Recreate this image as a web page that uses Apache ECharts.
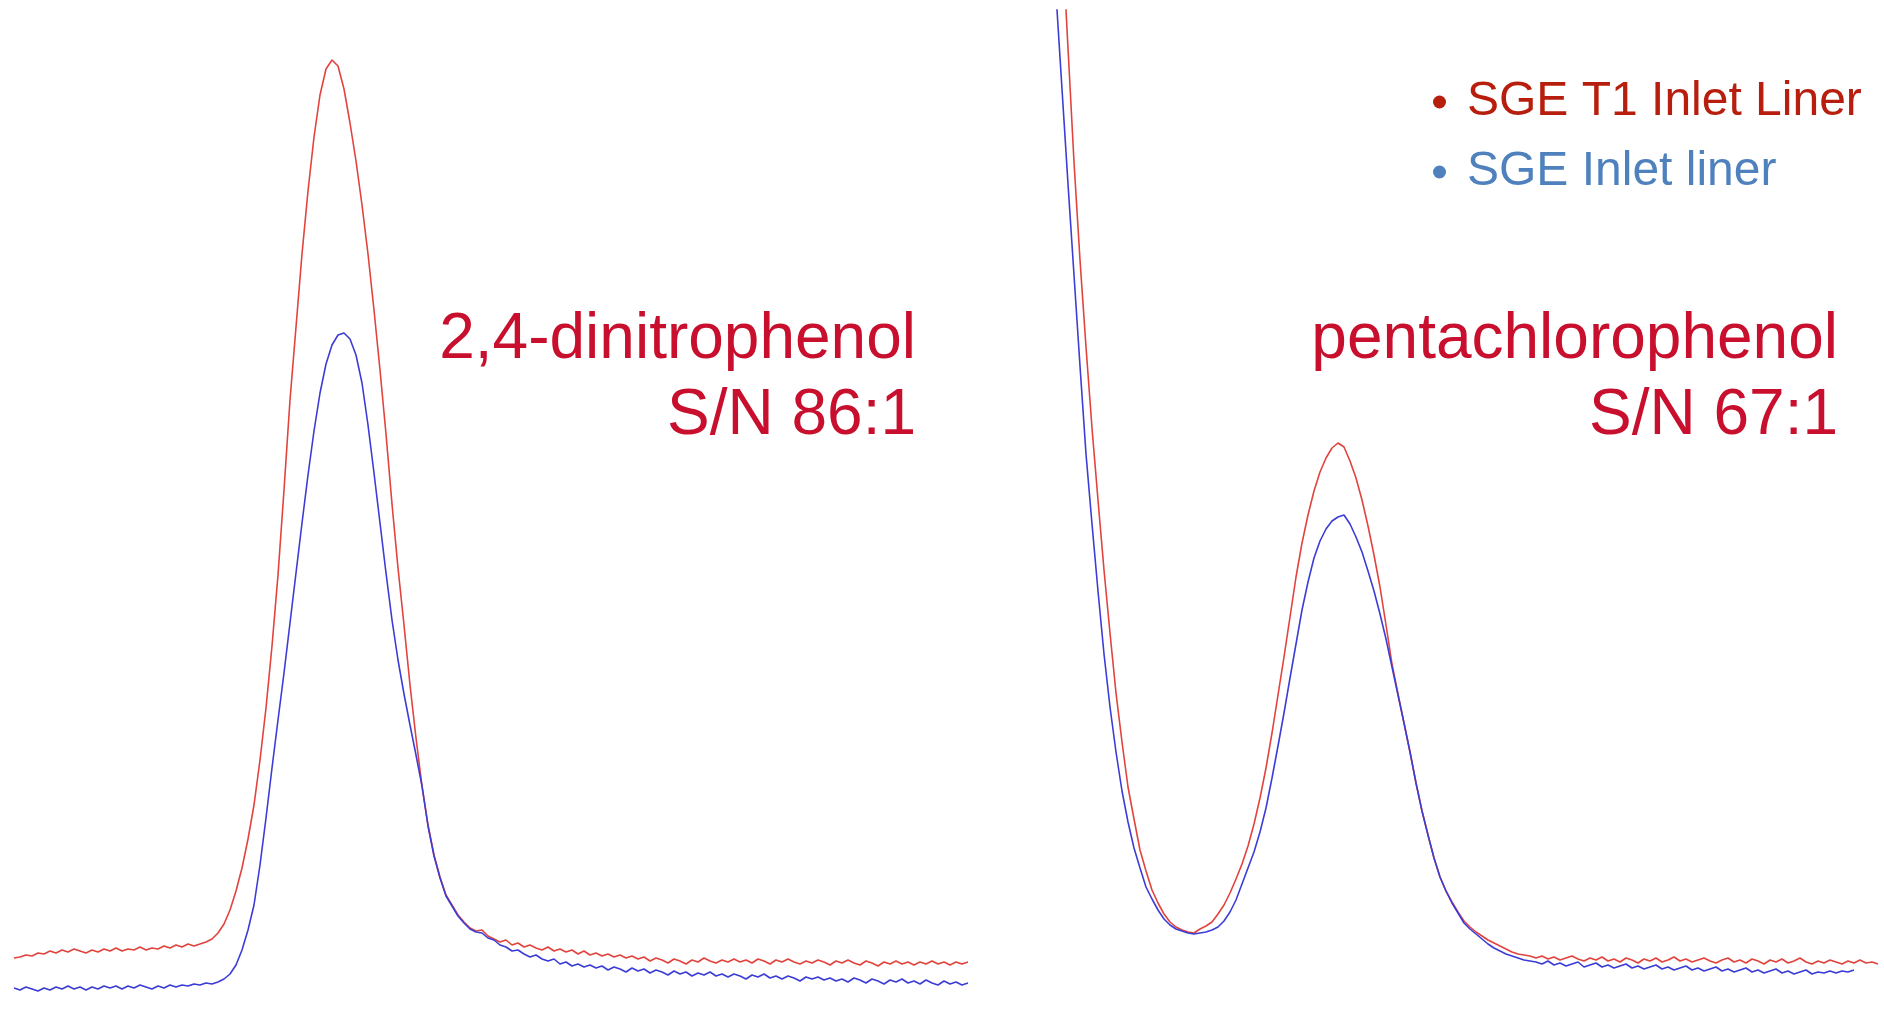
<!DOCTYPE html>
<html>
<head>
<meta charset="utf-8">
<script src="https://cdn.jsdelivr.net/npm/echarts@6/dist/echarts.min.js"></script>
<style>
html,body{margin:0;padding:0;background:#ffffff;}
#chart{width:1884px;height:1009px;}
</style>
</head>
<body>
<div id="chart"></div>
<script>
// ---- Data (abundance, arbitrary units) ----
const scansLeft = Array.from({length: 160}, (_, i) => String(i + 1));
const scansRight = Array.from({length: 138}, (_, i) => String(i + 1));

const seriesNames = ['SGE T1 Inlet Liner', 'SGE Inlet liner'];

// 2,4-dinitrophenol window
const leftT1 = [
  51,52,54,53,56,55,58,56,59,57,
  60,58,56,59,57,60,58,61,58,60,
  59,62,59,61,60,63,61,64,62,65,
  63,65,67,70,76,85,99,118,141,170,
  204,249,301,363,434,519,609,682,755,818,
  872,914,940,949,943,920,886,848,804,755,
  699,639,575,505,441,384,324,271,223,184,
  154,132,114,104,94,87,81,78,79,73,
  70,67,69,64,66,62,64,61,59,62,
  58,60,57,59,55,58,54,56,53,55,
  52,54,51,53,50,52,48,51,49,46,
  50,48,45,49,47,51,48,46,49,47,
  50,47,49,46,50,48,45,49,47,50,
  47,45,48,46,49,47,44,48,46,49,
  46,44,48,46,43,47,45,48,45,47,
  44,47,45,48,45,47,44,47,45,47
];
const leftStd = [
  21,19,22,20,18,21,19,22,20,23,
  20,22,19,22,20,23,21,23,20,23,
  21,24,22,20,23,21,24,22,24,23,
  25,24,26,25,27,30,35,44,59,79,
  104,144,191,241,289,336,386,436,486,534,
  578,616,645,664,674,676,670,654,626,584,
  536,486,436,389,349,315,284,254,223,183,
  153,131,113,103,93,86,80,77,76,71,
  69,64,62,58,59,55,52,54,50,48,
  50,45,47,43,45,42,44,41,43,39,
  42,40,37,41,38,40,36,39,37,34,
  38,35,37,33,36,34,37,33,35,32,
  35,33,30,34,32,35,31,33,30,33,
  31,28,32,30,32,29,31,28,30,27,
  31,29,26,30,28,25,29,27,30,26,
  28,25,29,26,24,28,25,27,24,26
];

// pentachlorophenol window
const rightT1 = [
  null,1075,961,847,749,662,581,509,439,376,
  316,267,222,190,159,138,119,106,95,87,
  82,79,77,76,80,83,87,95,104,116,
  130,145,163,185,211,241,276,314,352,392,
  432,466,494,518,537,551,561,566,562,548,
  531,509,483,454,422,384,345,315,286,257,
  226,198,174,151,132,118,107,97,88,82,
  77,73,69,66,63,60,57,55,54,53,
  51,53,50,52,49,51,53,50,48,51,
  49,52,48,50,47,51,49,46,50,48,
  51,47,49,52,48,50,47,49,51,48,
  46,49,51,47,49,46,50,48,45,49,
  47,50,46,48,51,47,45,48,46,49,
  47,45,48,46,49,46,47,45
];
const rightStd = [
  1015,920,825,734,643,555,485,418,355,302,
  257,218,187,161,141,122,110,99,90,84,
  80,78,76,75,76,77,79,82,88,97,
  109,125,141,157,177,201,231,263,296,331,
  365,399,427,451,468,480,488,492,494,485,
  472,457,438,418,395,370,342,314,286,257,
  226,198,174,151,132,118,106,96,86,80,
  75,70,65,61,58,55,53,51,49,48,
  47,45,48,44,46,43,45,47,42,44,
  46,42,44,41,43,45,41,43,40,42,
  44,40,42,39,41,43,39,41,38,40,
  42,38,40,37,39,41,37,39,36,38,
  40,36,38,35,37,39,35,37,36,38,
  36,38,37,39,null,null,null,null
];

const leftLabels = ['2,4-dinitrophenol', 'S/N 86:1'];
const rightLabels = ['pentachlorophenol', 'S/N 67:1'];

// ---- Chart ----
const RED = '#e2433d';
const BLUE = '#3c3cd6';
const FONT = '"Liberation Sans", Arial, sans-serif';
const chart = echarts.init(document.getElementById('chart'), null, {renderer: 'canvas'});

function lineSeries(name, data, color, idx) {
  return {
    name: name, type: 'line', data: data,
    xAxisIndex: idx, yAxisIndex: idx,
    showSymbol: false, symbol: 'none', smooth: false, clip: true,
    connectNulls: false,
    lineStyle: {color: color, width: 1.6},
    itemStyle: {color: color},
    emphasis: {disabled: true},
    silent: true
  };
}

function label(text, x, y) {
  return {
    type: 'text', x: x, y: y, silent: true,
    style: {text: text, fill: '#c8102e', fontSize: 64, fontFamily: FONT,
            align: 'right', verticalAlign: 'middle'}
  };
}

chart.setOption({
  animation: false,
  backgroundColor: '#ffffff',
  grid: [
    {left: 14, right: 916, top: 10, bottom: 0},
    {left: 1056, right: 6, top: 10, bottom: 0}
  ],
  xAxis: [
    {type: 'category', gridIndex: 0, data: scansLeft, boundaryGap: false, show: false},
    {type: 'category', gridIndex: 1, data: scansRight, boundaryGap: false, show: false}
  ],
  yAxis: [
    {type: 'value', gridIndex: 0, min: 0, max: 999, show: false, splitLine: {show: false}},
    {type: 'value', gridIndex: 1, min: 0, max: 999, show: false, splitLine: {show: false}}
  ],
  legend: {
    orient: 'vertical', left: 1433, top: 77, padding: 0,
    itemWidth: 13, itemHeight: 13, itemGap: 20, icon: 'circle',
    selectedMode: false,
    textStyle: {fontSize: 48, fontFamily: FONT, lineHeight: 50, padding: [0, 0, 0, 16]},
    data: [
      {name: seriesNames[0], itemStyle: {color: '#b81e0e'}, textStyle: {color: '#b81e0e'}},
      {name: seriesNames[1], itemStyle: {color: '#4f81bd'}, textStyle: {color: '#4f81bd'}}
    ]
  },
  series: [
    lineSeries(seriesNames[0], leftT1, RED, 0),
    lineSeries(seriesNames[1], leftStd, BLUE, 0),
    lineSeries(seriesNames[0], rightT1, RED, 1),
    lineSeries(seriesNames[1], rightStd, BLUE, 1)
  ],
  graphic: [
    label(leftLabels[0], 916, 340),
    label(leftLabels[1], 916, 416),
    label(rightLabels[0], 1838, 340),
    label(rightLabels[1], 1838, 416)
  ]
});
</script>
</body>
</html>
